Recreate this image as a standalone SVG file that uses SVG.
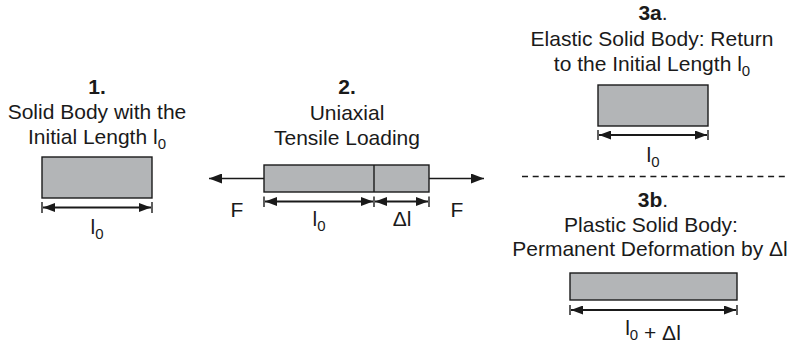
<svg xmlns="http://www.w3.org/2000/svg" width="794" height="343" viewBox="0 0 794 343">
  <style>
    text { font-family: "Liberation Sans", Arial, sans-serif; font-size: 21px; fill: #1a1a1a; text-anchor: middle; }
    .b { font-weight: bold; }
    .sub { font-size: 15px; }
    .body { fill: #b3b5b7; stroke: #1a1a1a; stroke-width: 1.4; }
    .line { stroke: #1a1a1a; stroke-width: 1.4; fill: none; }
    .dim { stroke: #1a1a1a; stroke-width: 1.9; fill: none; marker-start: url(#dimStart); marker-end: url(#dimEnd); }
    .force { stroke: #1a1a1a; stroke-width: 1.4; fill: none; marker-end: url(#force); }
    .tick { stroke: #1a1a1a; stroke-width: 1.4; }
    .sep { stroke: #1a1a1a; stroke-width: 1.4; stroke-dasharray: 6 4.7; }
  </style>
  <defs>
    <marker id="force" viewBox="0 0 13 10" refX="13" refY="5" markerWidth="13" markerHeight="10" markerUnits="userSpaceOnUse" orient="auto">
      <path d="M0,0 L13,5 L0,10 Z" fill="#1a1a1a"/>
    </marker>
    <marker id="dimEnd" viewBox="0 0 12 9" refX="12" refY="4.5" markerWidth="12" markerHeight="9" markerUnits="userSpaceOnUse" orient="auto">
      <path d="M0,0 L12,4.5 L0,9 Z" fill="#1a1a1a"/>
    </marker>
    <marker id="dimStart" viewBox="0 0 12 9" refX="0" refY="4.5" markerWidth="12" markerHeight="9" markerUnits="userSpaceOnUse" orient="auto">
      <path d="M12,0 L0,4.5 L12,9 Z" fill="#1a1a1a"/>
    </marker>
  </defs>

  <!-- 1. initial body -->
  <g id="node-initial">
    <text x="97" y="94" class="b">1.</text>
    <text x="97" y="119">Solid Body with the</text>
    <text x="97" y="144">Initial Length l<tspan class="sub" dy="5">0</tspan></text>
    <rect class="body" x="42" y="157" width="110" height="41"/>
    <text x="97" y="234">l<tspan class="sub" dy="5">0</tspan></text>
  </g>

  <!-- 2. body under tensile load -->
  <g id="node-loaded">
    <text x="347" y="94" class="b">2.</text>
    <text x="347" y="120">Uniaxial</text>
    <text x="347" y="145">Tensile Loading</text>
    <rect class="body" x="264" y="165" width="165" height="27"/>
    <line class="line" x1="374" y1="165" x2="374" y2="192"/>
    <text x="237" y="217">F</text>
    <text x="457" y="217">F</text>
    <text x="319" y="226">l<tspan class="sub" dy="5">0</tspan></text>
    <text x="402" y="226">Δl</text>
  </g>

  <!-- 3a. elastic recovery -->
  <g id="node-elastic">
    <text x="653" y="20"><tspan class="b">3a</tspan>.</text>
    <text x="652" y="46">Elastic Solid Body: Return</text>
    <text x="652" y="71">to the Initial Length l<tspan class="sub" dy="5">0</tspan></text>
    <rect class="body" x="598" y="85" width="110" height="41"/>
    <text x="653" y="162">l<tspan class="sub" dy="5">0</tspan></text>
  </g>

  <line id="separator" class="sep" x1="522" y1="176.5" x2="785" y2="176.5"/>

  <!-- 3b. plastic deformation -->
  <g id="node-plastic">
    <text x="653" y="207"><tspan class="b">3b</tspan>.</text>
    <text x="651" y="232">Plastic Solid Body:</text>
    <text x="650" y="256">Permanent Deformation by Δl</text>
    <rect class="body" x="570" y="273" width="167" height="27"/>
    <text x="653" y="335">l<tspan class="sub" dy="5">0</tspan> + Δl</text>
  </g>

  <!-- connectors: forces and dimension lines -->
  <g id="connectors">
    <line class="force" x1="264" y1="178.5" x2="209" y2="178.5"/>
    <line class="force" x1="429" y1="178.5" x2="484" y2="178.5"/>

    <line class="tick" x1="42" y1="202" x2="42" y2="213"/>
    <line class="tick" x1="152" y1="202" x2="152" y2="213"/>
    <line class="dim" x1="43" y1="207.5" x2="151" y2="207.5"/>

    <line class="tick" x1="264" y1="196.5" x2="264" y2="207"/>
    <line class="tick" x1="374" y1="196.5" x2="374" y2="207"/>
    <line class="tick" x1="429" y1="196.5" x2="429" y2="207"/>
    <line class="dim" x1="265" y1="201.5" x2="373" y2="201.5"/>
    <line class="dim" x1="375" y1="201.5" x2="428" y2="201.5"/>

    <line class="tick" x1="598" y1="130" x2="598" y2="140"/>
    <line class="tick" x1="708" y1="130" x2="708" y2="140"/>
    <line class="dim" x1="599" y1="135" x2="707" y2="135"/>

    <line class="tick" x1="570" y1="305" x2="570" y2="315"/>
    <line class="tick" x1="737" y1="305" x2="737" y2="315"/>
    <line class="dim" x1="571" y1="310" x2="736" y2="310"/>
  </g>
</svg>
